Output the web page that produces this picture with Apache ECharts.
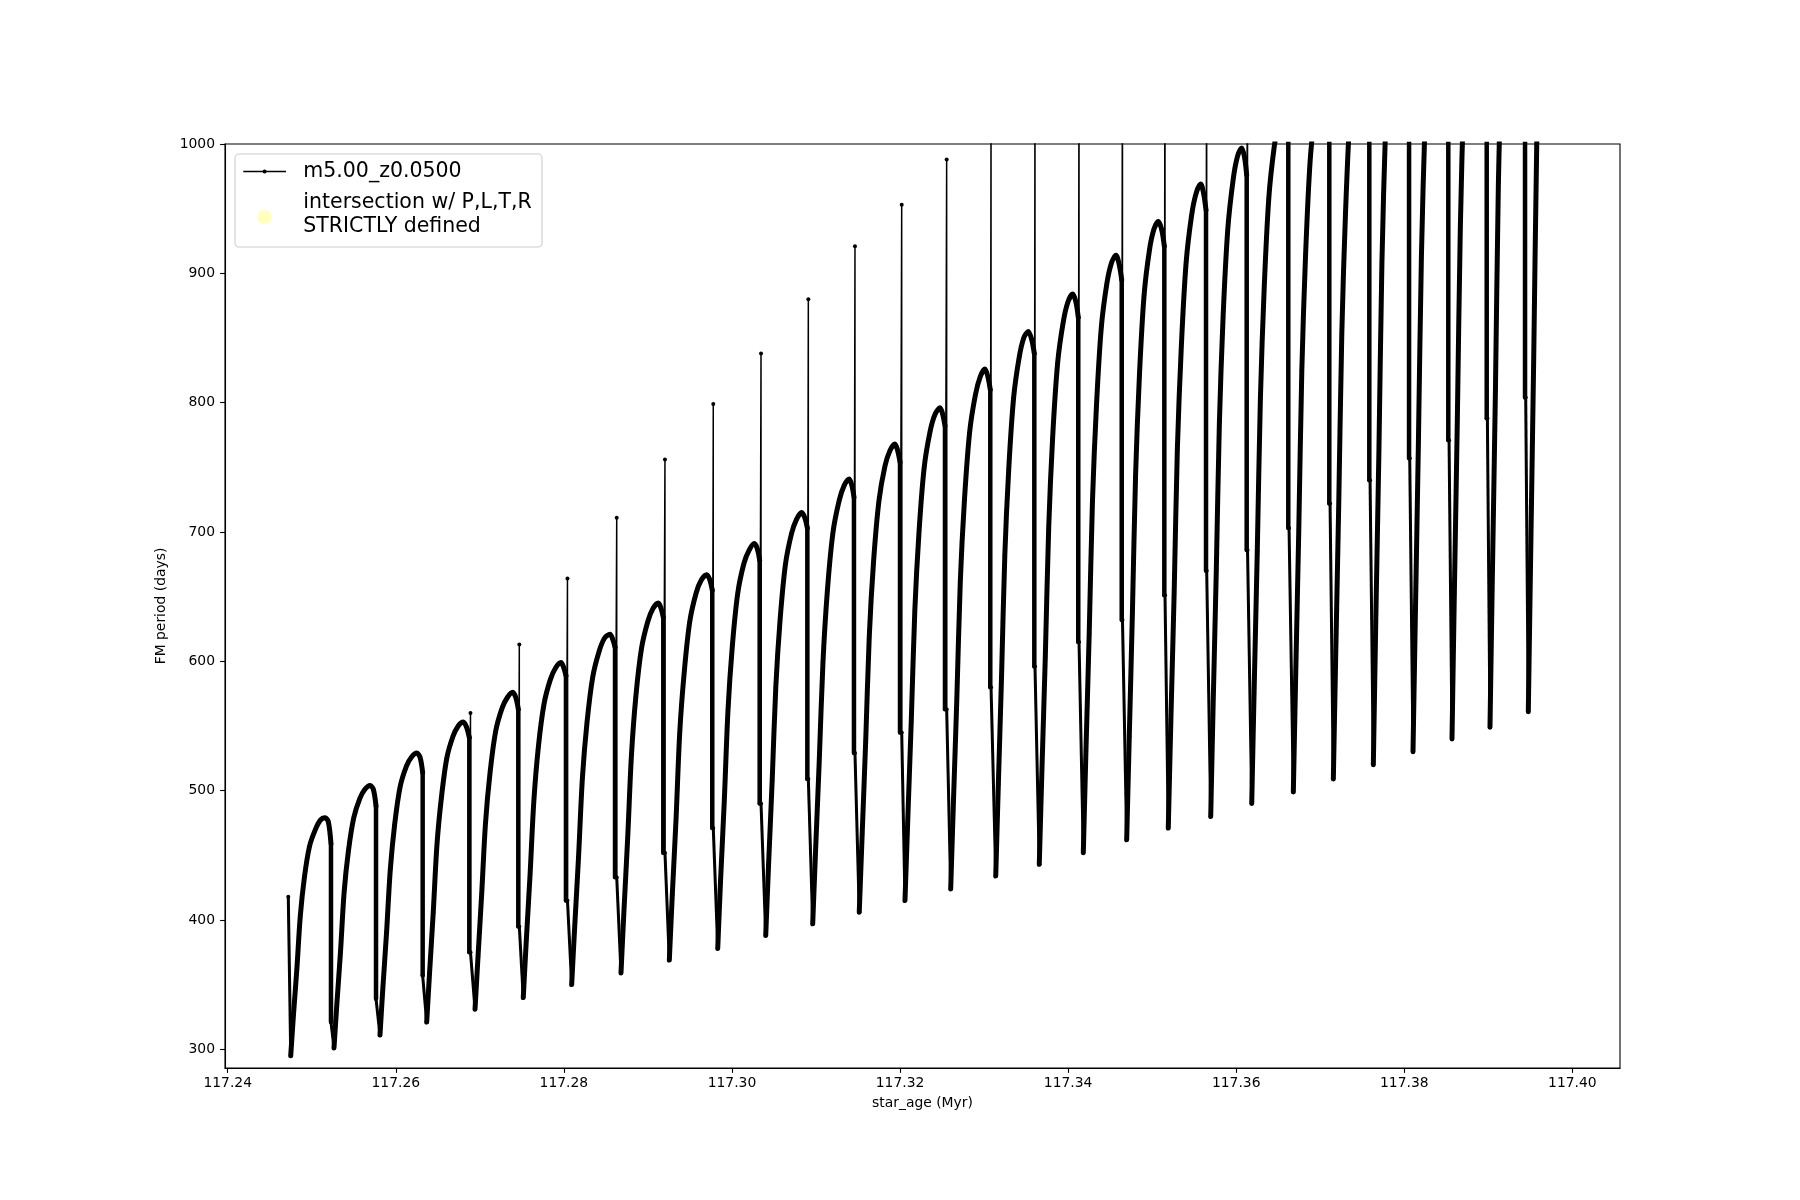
<!DOCTYPE html>
<html><head><meta charset="utf-8">
<script src="https://cdn.jsdelivr.net/npm/echarts@6/dist/echarts.min.js"></script>
<style>html,body{margin:0;padding:0;background:#fff}#chart{width:1800px;height:1200px}</style>
</head><body><div id="chart"></div>
<script>
const xTicks = [117.24, 117.26, 117.28, 117.30, 117.32, 117.34, 117.36, 117.38, 117.40];
const yTicks = [300, 400, 500, 600, 700, 800, 900, 1000];
const seriesName = 'm5.00_z0.0500';
const markerName = 'intersection w/ P,L,T,R\nSTRICTLY defined';
const startAge = 117.24721, startPeriod = 418;

const cycleAge = [
 [117.24750,117.24782,117.24823,117.24864,117.24913,117.24974,117.25044,117.25101,117.25158,117.25197,117.25229,117.25229],
 [117.25265,117.25299,117.25342,117.25385,117.25436,117.25500,117.25573,117.25633,117.25693,117.25733,117.25765,117.25765],
 [117.25812,117.25847,117.25891,117.25935,117.25987,117.26052,117.26127,117.26188,117.26249,117.26288,117.26320,117.26320],
 [117.26368,117.26403,117.26446,117.26490,117.26542,117.26607,117.26681,117.26743,117.26803,117.26843,117.26875,117.26875],
 [117.26943,117.26979,117.27023,117.27068,117.27122,117.27189,117.27266,117.27328,117.27391,117.27428,117.27458,117.27458],
 [117.27517,117.27553,117.27598,117.27643,117.27697,117.27764,117.27840,117.27903,117.27966,117.27999,117.28025,117.28025],
 [117.28093,117.28130,117.28175,117.28221,117.28276,117.28344,117.28421,117.28485,117.28549,117.28582,117.28609,117.28609],
 [117.28680,117.28715,117.28760,117.28804,117.28857,117.28924,117.29000,117.29062,117.29124,117.29156,117.29183,117.29183],
 [117.29255,117.29290,117.29335,117.29379,117.29433,117.29499,117.29575,117.29637,117.29700,117.29737,117.29766,117.29766],
 [117.29831,117.29865,117.29909,117.29953,117.30005,117.30070,117.30144,117.30205,117.30266,117.30302,117.30330,117.30330],
 [117.30402,117.30436,117.30479,117.30522,117.30573,117.30637,117.30710,117.30770,117.30830,117.30867,117.30897,117.30897],
 [117.30961,117.30996,117.31039,117.31083,117.31135,117.31201,117.31275,117.31336,117.31396,117.31427,117.31452,117.31452],
 [117.31515,117.31550,117.31592,117.31634,117.31685,117.31749,117.31821,117.31881,117.31940,117.31972,117.32000,117.32000],
 [117.32059,117.32093,117.32134,117.32176,117.32226,117.32288,117.32359,117.32417,117.32476,117.32508,117.32535,117.32535],
 [117.32603,117.32636,117.32676,117.32717,117.32766,117.32828,117.32897,117.32954,117.33011,117.33046,117.33074,117.33074],
 [117.33139,117.33170,117.33208,117.33247,117.33294,117.33352,117.33418,117.33472,117.33526,117.33566,117.33598,117.33598],
 [117.33657,117.33689,117.33729,117.33769,117.33816,117.33876,117.33944,117.33999,117.34055,117.34092,117.34121,117.34121],
 [117.34181,117.34212,117.34251,117.34290,117.34337,117.34395,117.34461,117.34516,117.34570,117.34607,117.34638,117.34638],
 [117.34697,117.34728,117.34765,117.34803,117.34848,117.34904,117.34968,117.35021,117.35073,117.35113,117.35145,117.35145],
 [117.35192,117.35223,117.35262,117.35300,117.35347,117.35404,117.35470,117.35524,117.35578,117.35612,117.35641,117.35641],
 [117.35697,117.35726,117.35763,117.35800,117.35844,117.35900,117.35963,117.36014,117.36066,117.36099,117.36125,117.36125],
 [117.36185,117.36214,117.36251,117.36288,117.36333,117.36388,117.36451,117.36503,117.36555,117.36591,117.36620,117.36620],
 [117.36680,117.36709,117.36745,117.36781,117.36825,117.36880,117.36941,117.36992,117.37043,117.37078,117.37108,117.37108],
 [117.37156,117.37185,117.37221,117.37257,117.37301,117.37356,117.37417,117.37468,117.37519,117.37554,117.37584,117.37584],
 [117.37632,117.37661,117.37698,117.37734,117.37778,117.37833,117.37895,117.37946,117.37997,117.38030,117.38057,117.38057],
 [117.38104,117.38133,117.38168,117.38204,117.38247,117.38300,117.38361,117.38411,117.38461,117.38494,117.38524,117.38524],
 [117.38568,117.38596,117.38631,117.38667,117.38709,117.38761,117.38821,117.38870,117.38919,117.38953,117.38981,117.38981],
 [117.39020,117.39049,117.39085,117.39120,117.39163,117.39217,117.39277,117.39327,117.39377,117.39409,117.39437,117.39437],
 [117.39476,117.39505,117.39540,117.39576,117.39619,117.39672,117.39733,117.39781]
];

const cyclePeriod = [
 [295,326,362,403,433,457,470,477,479,476,459,321],
 [301,335,375,421,453,479,494,501,504,501,488,339],
 [311,348,391,439,474,503,519,526,529,526,514,357],
 [321,360,406,458,494,525,542,550,553,549,541,375],
 [331,372,421,475,514,546,564,572,576,572,563,395],
 [340,384,435,492,534,567,586,595,599,595,589,415],
 [350,396,449,510,553,588,608,618,621,617,611,433],
 [359,407,464,527,573,610,631,641,645,641,634,452],
 [369,419,478,545,592,631,653,663,667,663,655,471],
 [378,431,492,562,612,653,676,686,691,687,678,490],
 [388,443,508,580,632,675,699,710,715,711,703,509],
 [397,455,523,599,654,699,724,736,741,736,727,529],
 [406,467,539,619,677,724,751,763,768,763,754,545],
 [415,479,554,639,700,750,778,791,796,791,782,563],
 [424,492,571,661,724,777,806,820,826,820,810,580],
 [434,505,588,682,749,804,835,850,855,849,838,596],
 [443,517,604,703,773,831,863,878,884,878,866,615],
 [452,530,621,724,797,858,892,908,914,907,895,632],
 [462,542,637,744,820,883,918,934,940,934,921,651],
 [471,555,653,764,843,908,945,962,969,962,949,670],
 [480,567,669,784,866,934,972,990,997,990,976,686],
 [490,579,685,803,888,958,997,1015,1022,1015,1005,703],
 [499,592,702,825,913,987,1026,1046,1053,1047,1031,722],
 [509,607,724,854,947,1025,1068,1087,1095,1088,1070,740],
 [520,631,761,908,1013,1100,1147,1170,1179,1172,1150,757],
 [530,639,768,913,1016,1102,1150,1172,1180,1172,1150,771],
 [540,653,785,935,1041,1130,1179,1201,1210,1203,1180,788],
 [549,669,810,970,1083,1177,1229,1254,1263,1255,1230,804],
 [561,686,833,999,1118,1216,1269,1295]
];

const spikeAge = [null,null,null,117.26889,117.27470,117.28043,117.28629,117.29203,117.29778,117.30346,
 117.30909,117.31464,117.32020,117.32555,117.33083,117.33606,117.34130,117.34647,117.35153,117.35649,
 117.36135,117.36629,117.37117,117.37593,117.38065,117.38533,117.38989,117.39445,null];
const spikeTop = [null,null,null,560,613,664,711,756,799,838,
 880,921,953,988,1030,1070,1110,1150,1190,1230,
 1270,1310,1350,1390,1430,1470,1510,1550,null];

const FONT = 'DejaVu Sans';
const pathData = [[startAge, startPeriod]];
const series = [];
cycleAge.forEach(function (ages, i) {
  const pts = ages.map(function (a, j) { return [a, cyclePeriod[i][j]]; });
  pts.forEach(function (p) { pathData.push(p); });
  const last = pts[pts.length - 1];
  let baseAt = last;
  if (spikeAge[i] != null) {
    pathData.push([spikeAge[i], spikeTop[i]]);
    baseAt = [spikeAge[i], last[1]];
    pathData.push(baseAt);
  }
  const dropIdx = pts.length > 8 ? pts.length - 1 : pts.length;
  // dense rise track
  series.push({
    type: 'line', data: pts.slice(0, dropIdx), showSymbol: false, silent: true, z: 3,
    smooth: 0.3,
    lineStyle: { color: '#000', width: 5, join: 'round', cap: 'round' },
    clip: true, animation: false
  });
  // dense drop
  if (dropIdx < pts.length) {
    series.push({
      type: 'line', data: pts.slice(pts.length - 2), showSymbol: false, silent: true, z: 3,
      lineStyle: { color: '#000', width: 4.5, cap: 'round' },
      clip: true, animation: false
    });
  }
  // dotted descent to the next minimum
  if (i + 1 < cycleAge.length) {
    series.push({
      type: 'line', data: [baseAt, [cycleAge[i + 1][0], cyclePeriod[i + 1][0]]], showSymbol: false, silent: true, z: 3,
      lineStyle: { color: '#000', width: 3 }, clip: true, animation: false
    });
  }
});
series.push({
  type: 'line', data: [[startAge, startPeriod], [cycleAge[0][0], cyclePeriod[0][0]]], showSymbol: false, silent: true, z: 3,
  lineStyle: { color: '#000', width: 3 }, clip: true, animation: false
});
series.unshift({
  name: seriesName, type: 'line', data: pathData, z: 2,
  symbol: 'circle', symbolSize: 4, showSymbol: true, showAllSymbol: true,
  itemStyle: { color: '#000' },
  lineStyle: { color: '#000', width: 1.5 },
  clip: true, animation: false
});
series.push({ name: markerName, type: 'scatter', data: [], itemStyle: { color: '#ffffc0' } });

const chart = echarts.init(document.getElementById('chart'), null, { renderer: 'canvas' });
chart.setOption({
  backgroundColor: '#ffffff',
  animation: false,
  grid: { left: 225, right: 180, top: 144, bottom: 132, show: true, borderColor: '#000', borderWidth: 1.1, backgroundColor: 'transparent' },
  xAxis: {
    type: 'value', min: 117.23968, max: 117.40567,
    name: 'star_age (Myr)', nameLocation: 'middle', nameGap: 28,
    nameTextStyle: { fontFamily: FONT, fontSize: 13.9, color: '#000' },
    axisLine: { show: true, lineStyle: { color: '#000', width: 1.1 } },
    axisTick: { show: true, inside: false, length: 4.9, lineStyle: { color: '#000', width: 1.1 }, customValues: xTicks },
    axisLabel: { margin: 8, fontFamily: FONT, fontSize: 13.9, color: '#000', customValues: xTicks,
      formatter: function (v) { return Number(v).toFixed(2); } },
    splitLine: { show: false }
  },
  yAxis: {
    type: 'value', min: 285.5, max: 1000,
    name: 'FM period (days)', nameLocation: 'middle', nameGap: 49, nameRotate: 90,
    nameTextStyle: { fontFamily: FONT, fontSize: 13.9, color: '#000' },
    axisLine: { show: true, lineStyle: { color: '#000', width: 1.1 } },
    axisTick: { show: true, inside: false, length: 4.9, lineStyle: { color: '#000', width: 1.1 }, customValues: yTicks },
    axisLabel: { margin: 10, fontFamily: FONT, fontSize: 13.9, color: '#000', customValues: yTicks,
      formatter: function (v) { return String(Math.round(v)); } },
    splitLine: { show: false }
  },
  series: series,
  graphic: [
    { type: 'rect', z: 100, shape: { x: 235, y: 154, width: 307, height: 93, r: 4 },
      style: { fill: 'rgba(255,255,255,0.8)', stroke: '#cccccc', lineWidth: 1.1 } },
    { type: 'line', z: 101, shape: { x1: 243.3, y1: 171.5, x2: 286, y2: 171.5 },
      style: { stroke: '#000', lineWidth: 1.5 } },
    { type: 'circle', z: 102, shape: { cx: 264.6, cy: 171.5, r: 2 }, style: { fill: '#000' } },
    { type: 'text', z: 102, style: { x: 303.3, y: 171.5, text: seriesName, font: '20.5px "DejaVu Sans"',
      fill: '#000', verticalAlign: 'middle', align: 'left' } },
    { type: 'circle', z: 102, shape: { cx: 264.6, cy: 217, r: 7.3 }, style: { fill: '#ffffc0' } },
    { type: 'text', z: 102, style: { x: 303.3, y: 214.7, text: markerName, font: '20.5px "DejaVu Sans"',
      lineHeight: 24, fill: '#000', verticalAlign: 'middle', align: 'left' } }
  ]
});
</script>
</body></html>
